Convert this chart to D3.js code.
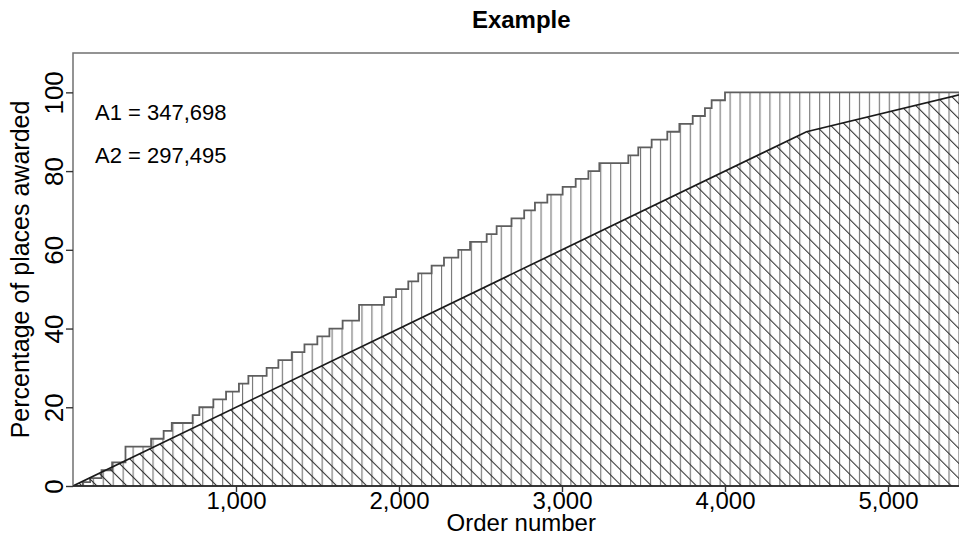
<!DOCTYPE html>
<html>
<head>
<meta charset="utf-8">
<title>Example</title>
<script src="https://cdn.jsdelivr.net/npm/d3@7/dist/d3.min.js"></script>
<style>
    body{margin:0;background:#fff;}
    svg{display:block;font-family:"Liberation Sans",Arial,Helvetica,sans-serif;}
</style>
</head>
<body>
<svg id="chart" width="959" height="534"></svg>
<script>
// staircase: order number where each level starts, and the level reached (%)
var stepOrders = [0, 60, 105, 175, 240, 322, 479, 556, 606, 734, 775, 861, 939, 1018, 1076, 1188,
    1260, 1342, 1420, 1499, 1573, 1654, 1755, 1908, 1982, 2057, 2118, 2200, 2276, 2364, 2436,
    2538, 2599, 2690, 2768, 2834, 2910, 3004, 3084, 3162, 3229, 3407, 3468, 3550, 3646, 3720,
    3802, 3877, 3918, 4000];
var stepLevels = [0, 1, 2, 4, 6, 10, 12, 14, 16, 18, 20, 22, 24, 26, 28, 30,
    32, 34, 36, 38, 40, 42, 46, 48, 50, 52, 54, 56, 58, 60, 62,
    64, 66, 68, 70, 72, 74, 76, 78, 80, 82, 84, 86, 88, 90, 92,
    94, 96, 98, 100];
// piecewise linear reference
var lineOrders = [0, 4500, 5500];
var lineLevels = [0, 90, 100];
var maxOrder = 5500;
var maxLevel = 110;
var xTicks = [1000, 2000, 3000, 4000, 5000];
var yTicks = [0, 20, 40, 60, 80, 100];
var areaLabels = ["A1 = 347,698", "A2 = 297,495"];

var svg = d3.select("#chart");
var plotLeft = 73, plotTop = 53, plotRight = 969.5, plotBottom = 486;

var x = d3.scaleLinear().domain([0, maxOrder]).range([plotLeft, plotRight]);
var y = d3.scaleLinear().domain([0, maxLevel]).range([plotBottom, plotTop]);

var defs = svg.append("defs");
defs.append("clipPath").attr("id", "plotClip")
    .append("rect")
    .attr("x", plotLeft).attr("y", plotTop)
    .attr("width", plotRight - plotLeft).attr("height", plotBottom - plotTop);

// vertical hatching
defs.append("pattern")
    .attr("id", "vHatch")
    .attr("patternUnits", "userSpaceOnUse")
    .attr("x", 3.2).attr("y", 0)
    .attr("width", 9.95).attr("height", 20)
    .append("line")
    .attr("x1", 0.5).attr("y1", 0).attr("x2", 0.5).attr("y2", 20)
    .attr("stroke", "#777").attr("stroke-width", 1.3);

// diagonal hatching (top-left to bottom-right)
defs.append("pattern")
    .attr("id", "dHatch")
    .attr("patternUnits", "userSpaceOnUse")
    .attr("width", 10.6).attr("height", 20)
    .attr("patternTransform", "rotate(-45)")
    .append("line")
    .attr("x1", 0.5).attr("y1", 0).attr("x2", 0.5).attr("y2", 20)
    .attr("stroke", "#2e2e2e").attr("stroke-width", 1.1);

var plot = svg.append("g").attr("clip-path", "url(#plotClip)");

/**
 * staircase polygon (upper area)
 */
function createStairs(){
    var pts = stepOrders.map(function(d, i){ return [d, stepLevels[i]]; });
    pts.push([maxOrder, stepLevels[stepLevels.length - 1]]);
    var stair = d3.line()
        .x(function(d){ return x(d[0]); })
        .y(function(d){ return y(d[1]); })
        .curve(d3.curveStepAfter);
    var outline = stair(pts);
    plot.append("path")
        .attr("d", outline + "L" + x(maxOrder) + "," + y(0) + "L" + x(0) + "," + y(0) + "Z")
        .attr("fill", "url(#vHatch)")
        .attr("stroke", "none");
    plot.append("path")
        .attr("d", outline)
        .attr("fill", "none")
        .attr("stroke", "#5e5e5e")
        .attr("stroke-width", 1.8);
}

/**
 * linear reference polygon (lower area)
 */
function createRefArea(){
    var pts = lineOrders.map(function(d, i){ return [d, lineLevels[i]]; });
    var area = d3.area()
        .x(function(d){ return x(d[0]); })
        .y0(y(0))
        .y1(function(d){ return y(d[1]); });
    plot.append("path")
        .attr("d", area(pts))
        .attr("fill", "url(#dHatch)")
        .attr("stroke", "none");
    plot.append("path")
        .attr("d", d3.line().x(function(d){ return x(d[0]); }).y(function(d){ return y(d[1]); })(pts))
        .attr("fill", "none")
        .attr("stroke", "#1a1a1a")
        .attr("stroke-width", 1.7);
}

createStairs();
createRefArea();

// box
svg.append("rect")
    .attr("x", plotLeft).attr("y", plotTop)
    .attr("width", plotRight - plotLeft).attr("height", plotBottom - plotTop)
    .attr("fill", "none")
    .attr("stroke", "#707070")
    .attr("stroke-width", 1.5);
svg.append("line")
    .attr("x1", plotLeft).attr("x2", plotRight)
    .attr("y1", plotBottom).attr("y2", plotBottom)
    .attr("stroke", "#1a1a1a")
    .attr("stroke-width", 1.6);

// x axis
var xAxis = svg.append("g")
    .attr("transform", "translate(0," + plotBottom + ")")
    .call(d3.axisBottom(x).tickValues(xTicks).tickFormat(d3.format(",")).tickSize(6).tickPadding(0));
xAxis.select(".domain").remove();
xAxis.selectAll(".tick line").attr("stroke", "#333").attr("stroke-width", 1.4);
xAxis.selectAll(".tick text")
    .attr("fill", "#000")
    .style("font-size", "24px")
    .style("font-family", "'Liberation Sans',Arial,sans-serif");

// y axis, rotated labels
var yAxis = svg.append("g")
    .attr("transform", "translate(" + plotLeft + ",0)")
    .call(d3.axisLeft(y).tickValues(yTicks).tickSize(7));
yAxis.select(".domain").remove();
yAxis.selectAll(".tick line").attr("stroke", "#333").attr("stroke-width", 1.4);
yAxis.selectAll(".tick text")
    .attr("x", 0).attr("y", 0).attr("dy", 0)
    .attr("transform", "translate(-10,0) rotate(-90)")
    .attr("text-anchor", "middle")
    .attr("fill", "#000")
    .style("font-size", "26px")
    .style("font-family", "'Liberation Sans',Arial,sans-serif");

// titles
svg.append("text")
    .attr("x", (plotLeft + plotRight) / 2).attr("y", 28)
    .attr("text-anchor", "middle")
    .style("font-size", "24px").style("font-weight", "bold")
    .text("Example");
svg.append("text")
    .attr("x", (plotLeft + plotRight) / 2).attr("y", 531)
    .attr("text-anchor", "middle")
    .style("font-size", "24px")
    .text("Order number");
svg.append("text")
    .attr("transform", "translate(29," + (plotTop + plotBottom) / 2 + ") rotate(-90)")
    .attr("text-anchor", "middle")
    .style("font-size", "25px")
    .text("Percentage of places awarded");

// area annotations
svg.selectAll("text.area-label")
    .data(areaLabels)
    .enter()
    .append("text")
    .classed("area-label", true)
    .attr("x", 95)
    .attr("y", function(d, i){ return 120 + i * 43; })
    .style("font-size", "22px")
    .text(function(d){ return d; });
</script>
</body>
</html>
